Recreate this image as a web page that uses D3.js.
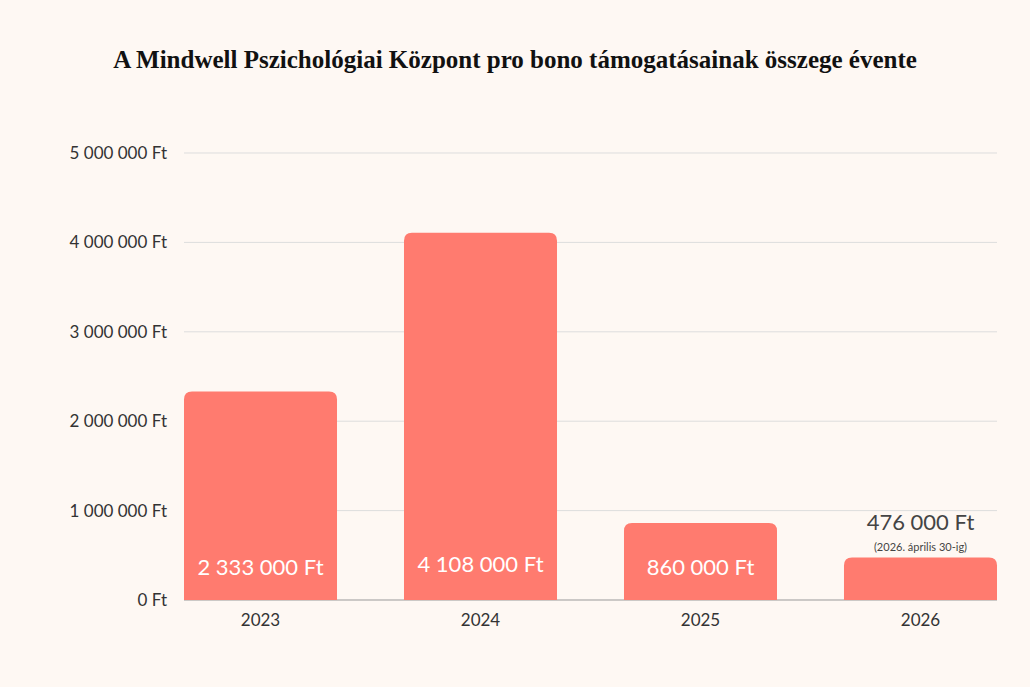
<!DOCTYPE html>
<html><head><meta charset="utf-8">
<script src="https://cdn.jsdelivr.net/npm/d3@7"></script>
<style>body{margin:0;background:#fef8f3}</style>
</head><body>
<svg id="c" width="1030" height="687"></svg>
<script>
const years = ["2023","2024","2025","2026"];
const values = [2333000,4108000,860000,476000];
const labels = ["2 333 000 Ft","4 108 000 Ft","860 000 Ft","476 000 Ft"];
const yTicks = [0,1000000,2000000,3000000,4000000,5000000];
const yTickLabels = ["0 Ft","1 000 000 Ft","2 000 000 Ft","3 000 000 Ft","4 000 000 Ft","5 000 000 Ft"];
const note2026 = "(2026. április 30-ig)";

const svg = d3.select("#c");
svg.append("rect").attr("width",1030).attr("height",687).attr("fill","#fef8f3");
const x = d3.scaleBand().domain(years).range([184,997]).paddingInner(0.3045).paddingOuter(0);
const y = d3.scaleLinear().domain([0,5000000]).range([600,153]);
const font = "Lato, 'Open Sans', sans-serif";

svg.append("text").attr("x",515).attr("y",68).attr("text-anchor","middle")
  .attr("font-family","'Liberation Serif', 'DejaVu Serif', serif").attr("font-weight","bold")
  .attr("font-size",25).attr("fill","#111")
  .text("A Mindwell Pszichológiai Központ pro bono támogatásainak összege évente");

svg.selectAll(".g").data(yTicks).join("line")
  .attr("x1",184).attr("x2",997).attr("y1",d=>y(d)).attr("y2",d=>y(d))
  .attr("stroke",(d)=>d===0?"#999":"#ddd").attr("stroke-width",1);
svg.selectAll(".yl").data(yTicks).join("text")
  .attr("x",167).attr("y",d=>y(d)+6).attr("text-anchor","end")
  .attr("font-family",font).attr("font-size",17).attr("fill","#333")
  .text((d,i)=>yTickLabels[i]);

const r = 8;
svg.selectAll(".bar").data(values).join("path")
  .attr("fill","#ff7b6f")
  .attr("d",(d,i)=>{
    const x0=x(years[i]), w=x.bandwidth(), y0=y(d), yb=y(0);
    return `M${x0},${yb}V${y0+r}Q${x0},${y0} ${x0+r},${y0}H${x0+w-r}Q${x0+w},${y0} ${x0+w},${y0+r}V${yb}Z`;
  });

svg.selectAll(".xl").data(years).join("text")
  .attr("x",d=>x(d)+x.bandwidth()/2).attr("y",626).attr("text-anchor","middle")
  .attr("font-family",font).attr("font-size",17).attr("fill","#333").text(d=>d);

svg.selectAll(".vl").data(values).join("text")
  .attr("x",(d,i)=>x(years[i])+x.bandwidth()/2)
  .attr("y",(d,i)=>i===3?y(d)-27:(i===1?572:575))
  .attr("text-anchor","middle").attr("font-family",font).attr("font-size",22)
  .attr("fill",(d,i)=>i===3?"#444":"#fff").text((d,i)=>labels[i]);

svg.append("text").attr("x",x("2026")+x.bandwidth()/2).attr("y",y(values[3])-6)
  .attr("text-anchor","middle").attr("font-family",font).attr("font-size",11).attr("fill","#444")
  .text(note2026);
</script>
</body></html>
